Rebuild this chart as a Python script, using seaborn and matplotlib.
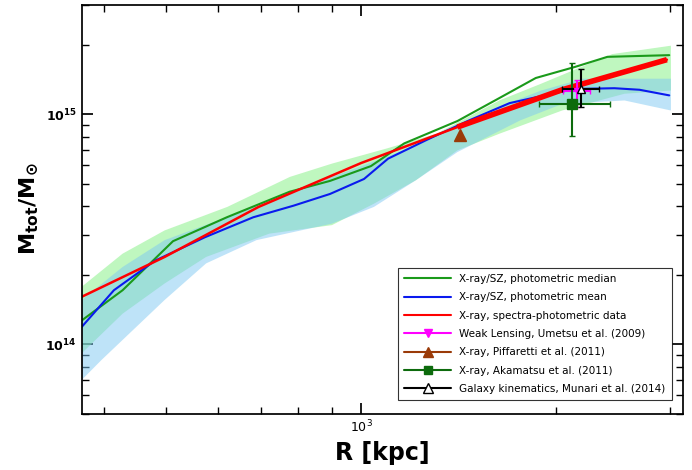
import numpy as np
import matplotlib
matplotlib.use("Agg")
import matplotlib.pyplot as plt
from matplotlib.lines import Line2D
import seaborn as sns

# --- data (R in kpc, M in Msun) ---
red_r = [370, 497, 694, 1000, 1408, 2043, 2965]
red_m = [1.61e14, 2.40e14, 3.96e14, 6.15e14, 8.81e14, 1.28e15, 1.73e15]

med_r = [370, 428, 512, 620, 775, 895, 1035, 1165, 1408, 1618, 1860, 2140, 2400, 2990]
med_m = [1.27e14, 1.72e14, 2.81e14, 3.57e14, 4.61e14, 5.14e14, 5.96e14, 7.48e14, 9.36e14, 1.16e15, 1.44e15, 1.61e15, 1.78e15, 1.81e15]

mean_r = [370, 415, 480, 573, 681, 786, 895, 1010, 1100, 1260, 1460, 1695, 1995, 2140, 2460, 2690, 2990]
mean_m = [1.19e14, 1.72e14, 2.31e14, 2.92e14, 3.57e14, 4.01e14, 4.51e14, 5.24e14, 6.42e14, 7.73e14, 9.36e14, 1.12e15, 1.24e15, 1.29e15, 1.30e15, 1.28e15, 1.21e15]

# median band (upper / lower edges)
ghi_r = [370, 428, 497, 621, 776, 901, 1093, 1307, 1634, 1896, 2442, 3008]
ghi_m = [1.78e14, 2.48e14, 3.13e14, 3.96e14, 5.35e14, 6.11e14, 7.10e14, 8.24e14, 1.15e15, 1.36e15, 1.83e15, 1.99e15]
glo_r = [370, 428, 497, 576, 721, 901, 1046, 1214, 1408, 1634, 2043, 2550, 3008]
glo_m = [9.14e13, 1.36e14, 1.84e14, 2.40e14, 3.03e14, 3.30e14, 4.09e14, 5.17e14, 6.98e14, 8.24e14, 1.04e15, 1.23e15, 1.27e15]

# mean band (upper / lower edges)
bhi_r = [370, 428, 497, 621, 776, 901, 1093, 1307, 1634, 1896, 2200, 3008]
bhi_m = [1.56e14, 2.17e14, 2.84e14, 3.58e14, 4.53e14, 5.35e14, 6.53e14, 7.97e14, 1.08e15, 1.27e15, 1.43e15, 1.43e15]
blo_r = [370, 397, 497, 576, 689, 901, 1046, 1214, 1408, 1760, 2043, 2550, 3008]
blo_m = [7.0e13, 8.55e13, 1.56e14, 2.25e14, 2.84e14, 3.35e14, 3.96e14, 5.17e14, 6.86e14, 9.42e14, 1.11e15, 1.15e15, 1.04e15]

wl_r, wl_m = 2151, 1.26e15
wl_rerr = [[2151 - 2048], [2256 - 2151]]
wl_merr = [[1.26e15 - 1.08e15], [1.41e15 - 1.26e15]]

pif_r, pif_m = 1419, 8.1e14

aka_r, aka_m = 2114, 1.11e15
aka_rerr = [[2114 - 1883], [2424 - 2114]]
aka_merr = [[1.11e15 - 8.05e14], [1.67e15 - 1.11e15]]

mun_r, mun_m = 2185, 1.29e15
mun_rerr = [[2185 - 2043], [2330 - 2185]]
mun_merr = [[1.29e15 - 1.08e15], [1.57e15 - 1.29e15]]

sns.set_theme(style="ticks")
plt.rcParams['font.family'] = ['DejaVu Sans']
plt.rcParams['text.color'] = 'black'
plt.rcParams['axes.labelcolor'] = 'black'
plt.rcParams['xtick.color'] = 'black'
plt.rcParams['ytick.color'] = 'black'
plt.rcParams['axes.edgecolor'] = 'black'

fig, ax = plt.subplots(figsize=(6.92, 4.70), dpi=100)
fig.subplots_adjust(left=0.118, right=0.987, bottom=0.12, top=0.99)

ax.fill(ghi_r + glo_r[::-1], ghi_m + glo_m[::-1], color='#80f080', alpha=0.5, lw=0)
ax.fill(bhi_r + blo_r[::-1], bhi_m + blo_m[::-1], color='#7ec8f2', alpha=0.5, lw=0)

sns.lineplot(x=med_r, y=med_m, ax=ax, color='#1a9a1a', lw=1.5)
sns.lineplot(x=mean_r, y=mean_m, ax=ax, color='#0a1aee', lw=1.5)
ax.plot(red_r, red_m, color='red', lw=1.8)
ax.plot(red_r[-3:], red_m[-3:], color='red', lw=4, solid_capstyle='butt')

ax.errorbar(wl_r, wl_m, xerr=wl_rerr, yerr=wl_merr, fmt='v', color='magenta', ms=5,
            capsize=2, lw=1.5)
ax.plot(pif_r, pif_m, '^', color='#9a3a08', ms=8)
ax.errorbar(aka_r, aka_m, xerr=aka_rerr, yerr=aka_merr, fmt='s', color='#0d6b0d', ms=7,
            capsize=2, lw=1.5)
ax.errorbar(mun_r, mun_m, xerr=mun_rerr, yerr=mun_merr, fmt='^', color='black', mfc='white',
            ms=6, capsize=2, lw=1.5)

ax.set_xscale('log')
ax.set_yscale('log')
ax.set_xlim(370, 3140)
ax.set_ylim(5e13, 3e15)
ax.tick_params(which='both', direction='in', top=True, right=True, labelsize=9)
ax.tick_params(which='major', length=8)
ax.tick_params(which='minor', length=5)
ax.xaxis.set_minor_formatter(matplotlib.ticker.NullFormatter())
ax.yaxis.set_minor_formatter(matplotlib.ticker.NullFormatter())
for t in ax.get_yticklabels():
    t.set_fontweight('bold')

ax.set_xlabel('R [kpc]', fontsize=17, fontweight='bold')
ax.set_ylabel(r'$\mathbf{M_{tot}/M_{\odot}}$', fontsize=16)

handles = [
    Line2D([], [], color='#1a9a1a', lw=1.5),
    Line2D([], [], color='#0a1aee', lw=1.5),
    Line2D([], [], color='red', lw=1.5),
    Line2D([], [], color='magenta', lw=1.5, marker='v', ms=6),
    Line2D([], [], color='#9a3a08', lw=1.5, marker='^', ms=7),
    Line2D([], [], color='#0d6b0d', lw=1.5, marker='s', ms=6),
    Line2D([], [], color='black', lw=1.5, marker='^', mfc='white', ms=7),
]
labels = ['X-ray/SZ, photometric median', 'X-ray/SZ, photometric mean',
          'X-ray, spectra-photometric data', 'Weak Lensing, Umetsu et al. (2009)',
          'X-ray, Piffaretti et al. (2011)', 'X-ray, Akamatsu et al. (2011)',
          'Galaxy kinematics, Munari et al. (2014)']
leg = ax.legend(handles, labels, loc='lower right', fontsize=7.5, fancybox=False,
                edgecolor='black', handlelength=4.5, labelspacing=0.8, borderpad=0.6,
                bbox_to_anchor=(0.99, 0.02))
leg.get_frame().set_linewidth(0.8)

fig.savefig('out.png', dpi=100)
